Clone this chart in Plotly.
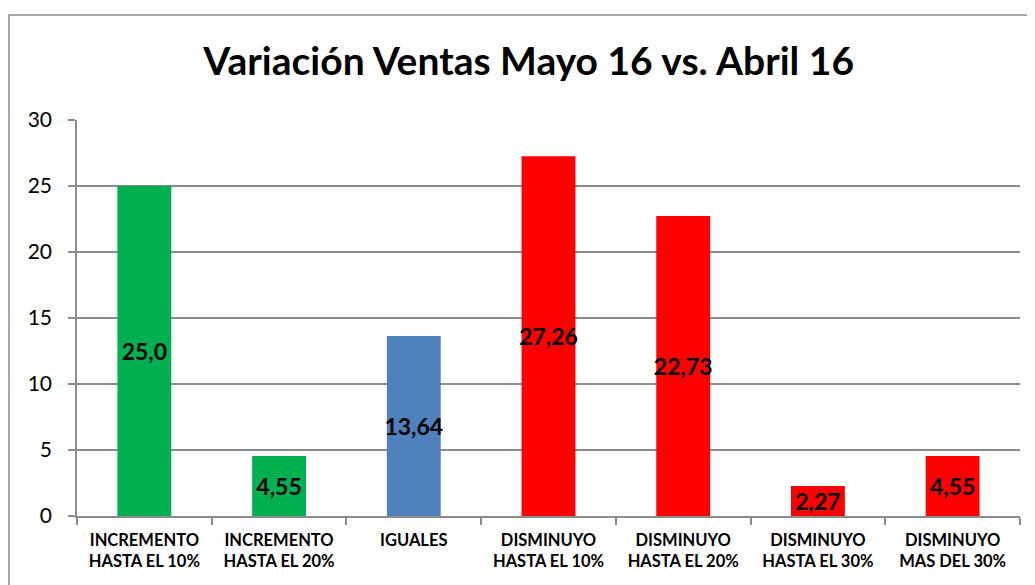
import plotly.graph_objects as go

categories = ["INCREMENTO<br>HASTA EL 10%", "INCREMENTO<br>HASTA EL 20%", "IGUALES",
              "DISMINUYO<br>HASTA EL 10%", "DISMINUYO<br>HASTA EL 20%",
              "DISMINUYO<br>HASTA EL 30%", "DISMINUYO<br>MAS DEL 30%"]
values = [25.0, 4.55, 13.64, 27.26, 22.73, 2.27, 4.55]
labels = ["25,0", "4,55", "13,64", "27,26", "22,73", "2,27", "4,55"]
colors = ["#00B050", "#00B050", "#4F81BD", "#FF0000", "#FF0000", "#FF0000", "#FF0000"]
y_ticks = [0, 5, 10, 15, 20, 25, 30]

FONT = "Lato"
GRID = "#8C8C8C"

fig = go.Figure(go.Bar(
    x=categories, y=values, marker=dict(color=colors, line=dict(width=0)),
    text=labels, textposition="inside", insidetextanchor="middle",
    textangle=0, constraintext="none",
    textfont=dict(family=FONT, size=23, color="black", weight="bold"),
    width=0.4, cliponaxis=False,
))

fig.update_layout(
    width=1035, height=585,
    margin=dict(l=69, r=23, t=112, b=77, autoexpand=False),
    paper_bgcolor="white", plot_bgcolor="white",
    showlegend=False,
    title=dict(text="<b>Variación Ventas Mayo 16 vs. Abril 16</b>",
               x=0.479, xref="paper", xanchor="center",
               y=(585 - 53) / 585, yref="container", yanchor="middle",
               font=dict(family=FONT, size=39, color="black")),
    xaxis=dict(showline=True, linecolor=GRID, linewidth=1.5,
               ticks="outside", tickson="boundaries", ticklen=7, tickcolor=GRID, tickwidth=1.5,
               tickfont=dict(family=FONT, size=16.5, color="black", weight="bold"),
               ticklabelstandoff=8, showgrid=False),
    yaxis=dict(range=[0, 30], tickvals=y_ticks, showline=True, linecolor=GRID, linewidth=1.5,
               ticks="outside", ticklen=7, tickcolor=GRID, tickwidth=1.5,
               showgrid=True, gridcolor=GRID, gridwidth=1.5,
               tickfont=dict(family=FONT, size=21, color="black"),
               ticklabelstandoff=12, zeroline=False),
    shapes=[dict(type="rect", xref="paper", yref="paper",
                 x0=(9 - 77) / 943, x1=(1050 - 77) / 943,
                 y0=(516 - 600) / 396, y1=(516 - 15) / 396,
                 line=dict(color="#8C8C8C", width=1.5), fillcolor="rgba(0,0,0,0)",
                 layer="below")],
)

fig.write_html("out.html")
